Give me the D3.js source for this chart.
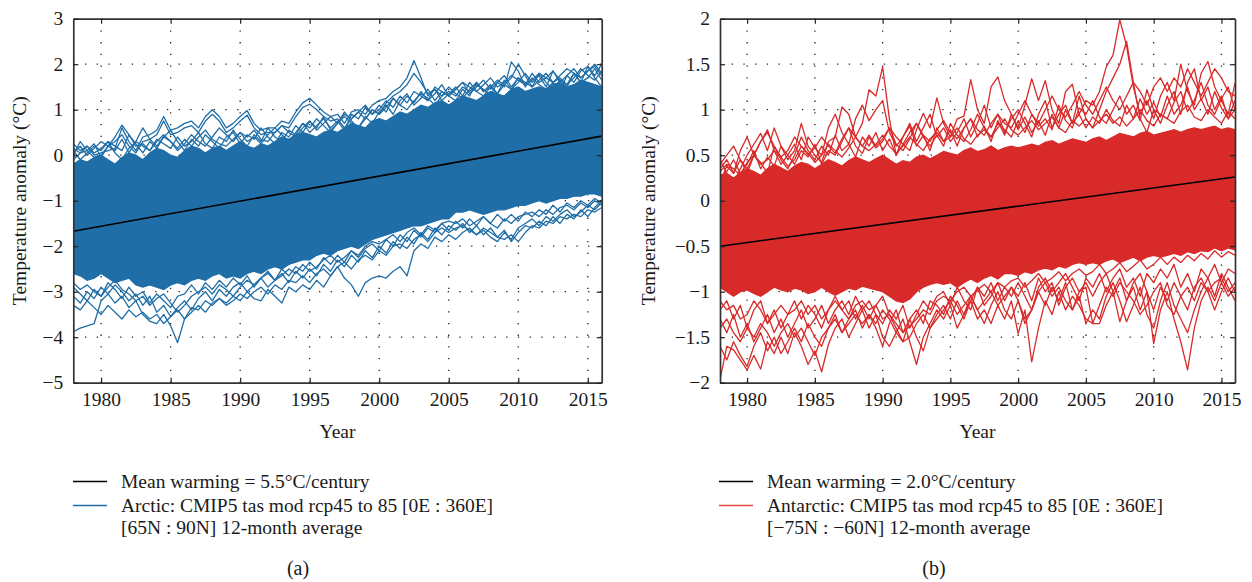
<!DOCTYPE html>
<html><head><meta charset="utf-8">
<script src="https://cdn.jsdelivr.net/npm/d3@7"></script>
<style>
body{margin:0;background:#fff}
svg{display:block}
text{font-family:"Liberation Serif","Times New Roman",serif;fill:#1a1a1a}
</style>
</head><body>
<svg id="chart" width="1252" height="582"></svg>
<script>
// ---------- shared axis data ----------
const yearStart = 1978, yearEnd = 2016, yearStep = 0.5;   // half-year samples, 77 per series
const xTickYears = [1980, 1985, 1990, 1995, 2000, 2005, 2010, 2015];
const arcticYTicks = [-5, -4, -3, -2, -1, 0, 1, 2, 3];
const antarcticYTicks = [-2, -1.5, -1, -0.5, 0, 0.5, 1, 1.5, 2];

// ---------- (a) Arctic ----------
const arcticTrendYears = [1978, 2016];
const arcticTrend = [-1.67, 0.42];
// dense core of the model ensemble (upper / lower envelope)
const arcticCoreUpper = [
 -0.2,-0.1,-0.15,-0.05,0.0,-0.1,-0.2,-0.05,0.05,0.0,-0.1,
 0.05,0.15,0.1,0.0,-0.05,0.1,0.2,0.15,0.05,0.15,0.2,
 0.1,0.2,0.3,0.2,0.15,0.25,0.2,0.3,0.4,0.35,0.45,
 0.5,0.45,0.4,0.5,0.55,0.5,0.6,0.7,0.65,0.6,0.75,
 0.8,0.75,0.85,0.95,0.9,1.0,1.1,1.05,1.15,1.2,1.1,
 1.2,1.3,1.25,1.2,1.3,1.4,1.35,1.3,1.45,1.5,1.4,
 1.45,1.5,1.45,1.55,1.6,1.5,1.55,1.65,1.6,1.55,1.5];
const arcticCoreLower = [
 -2.6,-2.65,-2.75,-2.7,-2.6,-2.7,-2.8,-2.75,-2.7,-2.85,-2.9,
 -2.85,-2.9,-2.95,-2.85,-2.8,-2.85,-2.75,-2.7,-2.75,-2.65,-2.6,
 -2.7,-2.65,-2.7,-2.6,-2.55,-2.6,-2.5,-2.45,-2.5,-2.4,-2.35,
 -2.3,-2.3,-2.2,-2.15,-2.2,-2.1,-2.05,-2.0,-2.05,-1.95,-1.85,
 -1.8,-1.75,-1.7,-1.65,-1.6,-1.55,-1.55,-1.5,-1.45,-1.4,-1.4,
 -1.25,-1.25,-1.2,-1.25,-1.3,-1.25,-1.2,-1.2,-1.15,-1.1,-1.1,
 -1.05,-1.0,-1.05,-1.0,-0.95,-0.95,-0.9,-0.9,-0.85,-0.85,-0.9];
// individual runs on the fringes of the ensemble
const arcticRun1 = [
 0.25,0.1,0.2,0.0,0.05,0.1,0.15,0.6,0.3,0.1,0.4,
 0.45,0.55,0.85,0.55,0.6,0.7,0.75,0.6,0.85,1.0,0.85,
 0.6,0.7,0.85,0.98,0.7,0.55,0.6,0.6,0.75,0.7,0.95,
 1.15,1.25,1.1,0.95,0.85,0.9,0.7,0.95,1.0,0.9,1.1,
 1.2,1.25,1.4,1.5,1.7,2.08,1.7,1.3,1.45,1.3,1.4,
 1.3,1.5,1.4,1.55,1.45,1.3,1.6,1.5,2.05,1.85,1.5,
 1.7,1.55,1.45,1.6,1.4,1.75,1.6,1.85,1.95,1.7,1.5];
const arcticRun2 = [
 0.15,0.05,0.1,-0.05,0.0,0.2,0.3,0.45,0.2,0.05,0.3,
 0.35,0.45,0.75,0.45,0.5,0.6,0.65,0.5,0.75,0.9,0.75,
 0.5,0.6,0.75,0.88,0.6,0.45,0.5,0.5,0.65,0.6,0.85,
 1.05,1.12,1.0,0.85,0.75,0.8,0.6,0.8,0.95,0.8,1.0,
 0.9,1.15,1.3,1.4,1.55,1.8,1.6,1.35,1.45,1.2,1.35,
 1.5,1.3,1.6,1.4,1.3,1.5,1.35,1.55,1.7,2.0,1.75,
 1.5,1.8,1.6,1.45,1.65,1.5,1.8,1.6,1.7,1.9,1.65];
const arcticRun3 = [
 0.0,0.3,0.1,0.25,-0.05,0.2,0.1,0.35,0.05,0.3,0.2,
 0.1,0.35,0.25,0.15,0.4,0.2,0.3,0.5,0.25,0.15,0.4,
 0.3,0.55,0.35,0.2,0.45,0.3,0.6,0.4,0.3,0.55,0.45,
 0.7,0.5,0.65,0.8,0.6,0.75,0.55,0.9,0.8,1.05,0.9,
 1.1,0.95,1.25,1.1,1.3,1.15,1.4,1.2,1.35,1.55,1.3,
 1.45,1.6,1.35,1.5,1.65,1.45,1.6,1.75,1.5,1.7,1.55,
 1.8,1.6,1.7,1.85,1.6,1.75,1.9,1.7,1.85,2.0,1.8];
const arcticRun4 = [
 -0.1,0.05,0.2,0.05,0.15,0.3,0.2,0.1,0.45,0.25,0.05,
 0.3,0.15,0.4,0.55,0.3,0.1,0.35,0.2,0.45,0.3,0.15,
 0.4,0.5,0.25,0.45,0.35,0.6,0.4,0.25,0.5,0.4,0.65,
 0.5,0.75,0.6,0.85,0.55,0.7,0.95,0.75,0.6,0.85,0.7,
 0.95,1.1,0.9,1.2,1.35,1.1,1.25,1.45,1.2,1.4,1.3,
 1.2,1.45,1.3,1.6,1.4,1.55,1.35,1.65,1.45,1.6,1.8,
 1.6,1.75,1.5,1.85,1.65,1.55,1.8,1.6,1.95,1.75,2.0];
const arcticRun5 = [
 -3.88,-3.8,-3.75,-3.7,-3.2,-3.05,-3.25,-3.1,-3.35,-3.2,-3.5,
 -3.65,-3.7,-3.5,-3.75,-4.12,-3.6,-3.35,-3.4,-3.2,-3.3,-3.15,
 -3.25,-3.1,-3.2,-3.0,-3.15,-3.2,-2.95,-3.1,-3.25,-2.9,-3.0,
 -2.85,-2.95,-2.75,-2.9,-2.65,-2.45,-2.7,-2.85,-3.1,-2.8,-2.7,
 -2.65,-2.7,-2.55,-2.45,-2.65,-2.1,-1.95,-2.05,-1.8,-1.9,-1.75,
 -1.85,-1.7,-1.6,-1.75,-1.65,-1.8,-1.9,-1.7,-1.85,-1.6,-1.5,
 -1.4,-1.55,-1.35,-1.45,-1.3,-1.2,-1.35,-1.25,-1.1,-1.2,-1.05];
const arcticRun6 = [
 -3.1,-3.25,-3.0,-3.15,-2.9,-3.05,-2.85,-3.0,-3.2,-3.05,-3.3,
 -3.1,-3.45,-3.3,-3.55,-3.35,-3.2,-3.4,-3.15,-3.0,-3.2,-2.95,
 -3.1,-2.9,-2.8,-3.0,-2.85,-2.7,-2.9,-2.75,-2.6,-2.8,-2.55,
 -2.7,-2.5,-2.65,-2.4,-2.55,-2.3,-2.45,-2.2,-2.35,-2.1,-2.25,
 -2.0,-2.15,-1.9,-2.05,-1.8,-1.95,-1.7,-1.85,-1.6,-1.75,-1.55,
 -1.65,-1.5,-1.7,-1.55,-1.75,-1.6,-1.8,-1.65,-1.9,-1.7,-1.55,
 -1.6,-1.45,-1.55,-1.35,-1.5,-1.3,-1.4,-1.2,-1.35,-1.15,-1.0];
const arcticRun7 = [
 -2.9,-3.05,-3.2,-2.95,-3.1,-2.8,-2.95,-3.15,-2.9,-3.1,-3.0,
 -3.25,-3.05,-3.2,-3.35,-3.1,-3.05,-2.85,-3.05,-2.8,-2.95,-2.75,
 -2.9,-2.7,-2.85,-2.65,-2.9,-2.7,-2.55,-2.75,-2.5,-2.65,-2.45,
 -2.55,-2.35,-2.5,-2.25,-2.4,-2.2,-2.35,-2.1,-2.25,-2.05,-1.95,
 -2.1,-1.85,-2.0,-1.75,-1.9,-1.65,-1.8,-1.6,-1.7,-1.5,-1.65,
 -1.45,-1.6,-1.4,-1.55,-1.35,-1.5,-1.3,-1.45,-1.3,-1.45,-1.25,
 -1.35,-1.2,-1.3,-1.1,-1.25,-1.05,-1.15,-1.0,-1.1,-0.95,-1.05];
const arcticRun8 = [
 0.1,-0.1,0.05,0.2,0.1,0.3,0.05,-0.1,0.15,0.3,0.6,
 0.35,0.2,0.4,0.3,0.1,0.25,0.45,0.3,0.2,0.4,0.6,
 0.45,0.3,0.5,0.4,0.55,0.35,0.3,0.5,0.65,0.5,0.4,
 0.6,0.75,0.55,0.7,0.85,0.7,0.9,0.8,0.95,1.1,0.9,
 1.0,1.2,1.05,1.3,1.15,1.4,1.3,1.2,1.5,1.4,1.3,
 1.45,1.6,1.5,1.4,1.55,1.7,1.5,1.6,1.75,1.65,1.55,
 1.65,1.8,1.7,1.6,1.75,1.9,1.8,1.7,1.85,1.95,1.75];
const arcticRun9 = [
 -2.8,-2.95,-2.85,-3.0,-3.1,-2.9,-2.75,-2.95,-3.05,-3.2,-3.1,
 -3.3,-3.15,-3.05,-3.25,-3.45,-3.3,-3.1,-3.0,-2.9,-3.05,-2.85,
 -2.95,-3.1,-2.9,-2.75,-2.85,-2.7,-2.6,-2.75,-2.65,-2.5,-2.6,
 -2.4,-2.55,-2.45,-2.3,-2.2,-2.35,-2.25,-2.1,-2.2,-2.0,-1.9,
 -1.95,-1.85,-1.75,-1.9,-1.7,-1.6,-1.75,-1.55,-1.65,-1.5,-1.45,
 -1.5,-1.4,-1.55,-1.45,-1.35,-1.5,-1.6,-1.4,-1.5,-1.35,-1.3,
 -1.25,-1.35,-1.2,-1.3,-1.15,-1.1,-1.2,-1.05,-1.15,-1.0,-1.1];
const arcticRun10 = [
 -3.3,-3.4,-3.2,-3.35,-3.5,-3.3,-3.45,-3.6,-3.4,-3.55,-3.45,
 -3.6,-3.5,-3.7,-3.55,-3.4,-3.6,-3.45,-3.3,-3.45,-3.25,-3.15,
 -3.3,-3.2,-3.05,-3.15,-3.0,-2.9,-3.05,-2.85,-2.95,-2.75,-2.8,
 -2.65,-2.8,-2.6,-2.5,-2.65,-2.45,-2.35,-2.5,-2.3,-2.2,-2.3,
 -2.1,-2.2,-2.0,-1.95,-2.05,-1.85,-1.75,-1.9,-1.7,-1.6,-1.7,
 -1.6,-1.55,-1.65,-1.75,-1.6,-1.7,-1.8,-1.85,-1.75,-1.9,-1.7,
 -1.55,-1.6,-1.45,-1.5,-1.35,-1.4,-1.3,-1.35,-1.2,-1.25,-1.15];
const arcticRun11 = [
 0.05,0.2,0.0,0.15,0.3,0.2,0.4,0.66,0.45,0.2,0.25,
 0.1,0.3,0.45,0.3,0.15,0.35,0.2,0.4,0.55,0.35,0.25,
 0.2,0.35,0.5,0.3,0.4,0.25,0.45,0.6,0.45,0.3,0.5,
 0.7,0.6,0.8,0.65,0.5,0.7,0.85,0.7,0.6,0.8,1.0,
 0.9,1.05,1.25,1.1,1.0,1.2,1.35,1.25,1.1,1.3,1.5,
 1.35,1.25,1.45,1.6,1.4,1.5,1.65,1.55,1.45,1.7,1.6,
 1.5,1.65,1.8,1.6,1.7,1.55,1.7,1.9,1.75,1.65,1.85];

// ---------- (b) Antarctic ----------
const antarcticTrendYears = [1978, 2016];
const antarcticTrend = [-0.5, 0.26];
const antarcticCoreUpper = [
 0.28,0.3,0.25,0.3,0.35,0.32,0.28,0.35,0.4,0.36,0.32,
 0.38,0.42,0.4,0.35,0.4,0.45,0.42,0.38,0.44,0.48,0.45,
 0.42,0.46,0.5,0.45,0.4,0.44,0.42,0.48,0.5,0.46,0.5,
 0.54,0.52,0.5,0.55,0.58,0.54,0.56,0.6,0.55,0.58,0.6,
 0.58,0.6,0.62,0.6,0.64,0.66,0.62,0.65,0.68,0.66,0.64,
 0.68,0.7,0.66,0.7,0.74,0.72,0.7,0.74,0.76,0.72,0.74,
 0.76,0.78,0.75,0.78,0.8,0.78,0.8,0.82,0.78,0.8,0.78];
const antarcticCoreLower = [
 -0.95,-1.0,-1.05,-1.0,-0.98,-1.02,-1.05,-1.0,-0.95,-0.98,-1.0,
 -0.96,-0.98,-1.02,-1.0,-0.95,-1.0,-1.04,-1.0,-0.96,-0.98,-0.94,
 -0.96,-0.98,-1.0,-1.05,-1.1,-1.12,-1.08,-1.0,-0.95,-0.92,-0.9,
 -0.92,-0.9,-0.95,-0.9,-0.86,-0.9,-0.85,-0.82,-0.86,-0.8,-0.8,
 -0.82,-0.78,-0.8,-0.76,-0.74,-0.76,-0.72,-0.74,-0.7,-0.68,-0.7,
 -0.68,-0.7,-0.66,-0.64,-0.68,-0.65,-0.62,-0.66,-0.62,-0.6,-0.62,
 -0.6,-0.58,-0.6,-0.56,-0.58,-0.55,-0.56,-0.52,-0.55,-0.52,-0.54];
const antarcticRun1 = [
 0.45,0.3,0.2,0.35,0.5,0.62,0.74,0.55,0.8,0.6,0.45,
 0.55,0.85,0.6,0.5,0.42,0.65,0.7,1.03,0.95,0.7,0.85,
 1.22,1.15,1.47,0.9,0.5,0.62,0.55,0.78,0.96,0.8,1.13,
 0.85,0.7,0.9,0.93,1.33,1.0,0.85,1.25,1.36,1.1,0.95,
 0.8,1.05,1.34,1.1,1.32,1.0,0.85,1.2,1.28,0.95,1.1,
 1.05,1.2,1.47,1.6,1.99,1.7,1.25,0.95,1.1,0.9,1.15,
 1.3,1.1,1.5,1.2,1.05,1.4,1.53,1.25,1.1,0.95,1.29];
const antarcticRun2 = [
 0.35,0.45,0.3,0.55,0.7,0.5,0.65,0.78,0.55,0.4,0.5,
 0.62,0.45,0.7,0.58,0.5,0.8,0.95,0.75,0.62,0.9,1.05,
 0.88,1.0,1.1,0.75,0.6,0.7,0.85,0.65,0.8,0.95,0.7,
 0.8,0.65,0.75,0.9,0.7,0.85,1.05,0.8,0.95,0.75,0.9,
 1.0,0.85,0.7,0.95,1.1,0.8,0.95,1.05,0.85,1.15,0.9,
 0.8,1.0,1.2,1.35,1.5,1.75,1.3,0.9,0.75,1.0,0.85,
 1.05,1.2,0.95,1.3,1.45,1.1,1.25,1.0,1.15,0.9,1.0];
const antarcticRun3 = [
 0.2,0.38,0.3,0.45,0.3,0.5,0.42,0.3,0.6,0.45,0.35,
 0.5,0.7,0.55,0.45,0.6,0.5,0.72,0.55,0.62,0.48,0.7,
 0.6,0.75,0.55,0.68,0.5,0.7,0.82,0.6,0.72,0.55,0.8,
 0.65,0.78,0.6,0.8,0.9,0.7,0.82,0.65,0.88,0.72,0.95,
 0.78,0.92,0.75,0.88,0.72,0.95,0.8,1.0,0.85,0.95,0.8,
 0.92,0.85,1.0,0.88,0.82,1.05,0.9,1.12,0.95,1.08,0.92,
 1.15,0.95,1.05,1.25,1.0,1.12,0.95,1.2,1.02,0.9,1.1];
const antarcticRun4 = [
 0.25,0.32,0.45,0.3,0.4,0.55,0.35,0.48,0.38,0.6,0.5,
 0.4,0.55,0.48,0.62,0.4,0.55,0.5,0.65,0.8,0.6,0.52,
 0.7,0.58,0.65,0.8,0.62,0.55,0.68,0.85,0.7,0.6,0.72,
 0.6,0.85,0.72,0.65,0.78,0.95,0.8,0.7,0.85,0.78,0.7,
 0.88,0.75,0.95,0.82,0.9,0.78,1.05,0.88,0.8,1.02,0.95,
 1.1,0.92,0.85,1.0,1.15,0.95,1.05,0.88,1.22,1.0,0.95,
 0.9,1.08,1.2,0.98,1.1,1.3,1.05,0.95,1.12,1.25,1.0];
const antarcticRun5 = [
 -1.97,-1.6,-1.64,-1.75,-1.86,-1.7,-1.85,-1.55,-1.68,-1.5,-1.68,
 -1.45,-1.6,-1.8,-1.65,-1.88,-1.58,-1.4,-1.3,-1.5,-1.35,-1.2,
 -1.4,-1.25,-1.5,-1.6,-1.45,-1.3,-1.55,-1.8,-1.5,-1.35,-1.2,
 -1.3,-1.15,-1.4,-1.25,-1.1,-1.3,-1.2,-1.35,-1.15,-1.3,-1.1,
 -1.46,-1.2,-1.77,-1.4,-1.1,-1.25,-1.0,-1.2,-1.05,-1.15,-1.3,
 -1.35,-1.35,-1.15,-1.0,-1.33,-1.1,-0.95,-1.2,-1.0,-1.57,-1.2,
 -1.0,-1.3,-1.55,-1.86,-1.4,-1.1,-0.95,-1.1,-0.9,-1.05,-0.95];
const antarcticRun6 = [
 -1.6,-1.75,-1.55,-1.7,-1.82,-1.6,-1.45,-1.65,-1.5,-1.68,-1.55,
 -1.4,-1.55,-1.35,-1.5,-1.6,-1.4,-1.25,-1.45,-1.3,-1.2,-1.4,
 -1.25,-1.4,-1.6,-1.35,-1.2,-1.45,-1.3,-1.5,-1.65,-1.4,-1.25,
 -1.15,-1.3,-1.1,-1.25,-1.05,-1.2,-1.35,-1.15,-1.0,-1.2,-1.3,
 -1.1,-1.35,-1.2,-1.0,-1.15,-0.95,-1.1,-0.9,-1.2,-1.05,-1.35,
 -1.2,-1.3,-1.05,-0.9,-1.1,-1.33,-1.15,-0.95,-1.25,-1.4,-1.1,
 -0.9,-1.15,-1.3,-1.45,-1.2,-1.0,-0.85,-1.05,-0.8,-0.95,-1.1];
const antarcticRun7 = [
 -1.3,-1.45,-1.25,-1.5,-1.35,-1.55,-1.4,-1.25,-1.45,-1.3,-1.5,
 -1.35,-1.2,-1.4,-1.3,-1.15,-1.35,-1.2,-1.1,-1.25,-1.05,-1.2,
 -1.1,-1.25,-1.35,-1.2,-1.3,-1.15,-1.4,-1.25,-1.1,-1.2,-1.05,
 -1.0,-1.15,-0.95,-1.1,-1.2,-0.95,-1.05,-0.9,-1.1,-0.95,-1.05,
 -0.9,-1.05,-1.2,-0.95,-0.85,-1.0,-0.9,-0.8,-0.95,-1.1,-0.85,
 -0.95,-0.8,-1.0,-0.85,-0.75,-0.95,-0.85,-1.05,-0.8,-0.9,-0.75,
 -0.85,-0.7,-0.95,-0.8,-1.0,-0.75,-0.85,-0.7,-0.9,-0.75,-0.8];
const antarcticRun8 = [
 -1.2,-1.1,-1.3,-1.15,-1.4,-1.2,-1.1,-1.35,-1.2,-1.4,-1.25,
 -1.1,-1.3,-1.15,-1.25,-1.4,-1.2,-1.05,-1.2,-1.1,-1.3,-1.15,
 -1.3,-1.15,-1.05,-1.25,-1.4,-1.55,-1.3,-1.2,-1.35,-1.1,-1.15,
 -1.25,-1.05,-1.15,-1.3,-1.1,-0.95,-1.15,-1.05,-0.9,-1.1,-0.95,
 -1.05,-0.9,-1.1,-0.85,-1.0,-0.9,-1.15,-0.95,-0.85,-1.0,-0.9,
 -1.05,-0.9,-0.8,-1.0,-0.85,-1.1,-0.9,-0.8,-1.0,-1.2,-0.95,
 -1.1,-0.9,-1.05,-1.2,-0.95,-0.85,-1.0,-0.9,-0.85,-1.0,-0.9];
const antarcticRun9 = [
 0.32,0.4,0.35,0.28,0.42,0.5,0.4,0.45,0.55,0.48,0.38,
 0.45,0.6,0.52,0.42,0.5,0.62,0.55,0.48,0.58,0.7,0.6,
 0.55,0.62,0.72,0.6,0.52,0.6,0.7,0.62,0.55,0.68,0.75,
 0.65,0.7,0.8,0.68,0.62,0.72,0.78,0.7,0.8,0.9,0.78,
 0.72,0.8,0.88,0.78,0.85,0.92,0.8,0.75,0.88,0.82,0.9,
 0.8,0.88,0.95,0.85,0.92,0.82,0.9,1.0,0.88,0.82,0.95,
 0.9,0.85,0.98,1.05,0.92,0.88,1.0,0.92,0.85,0.98,0.9];
const antarcticRun10 = [
 -1.1,-1.2,-1.15,-1.3,-1.25,-1.1,-1.2,-1.35,-1.25,-1.15,-1.25,
 -1.2,-1.1,-1.25,-1.15,-1.3,-1.2,-1.1,-1.2,-1.3,-1.15,-1.1,
 -1.2,-1.15,-1.3,-1.25,-1.35,-1.45,-1.38,-1.3,-1.2,-1.25,-1.1,
 -1.05,-1.1,-1.0,-0.95,-1.05,-0.98,-0.92,-1.0,-0.9,-0.95,-0.88,
 -0.85,-0.95,-0.88,-0.8,-0.9,-0.85,-0.78,-0.88,-0.8,-0.75,-0.82,
 -0.78,-0.7,-0.8,-0.75,-0.68,-0.78,-0.72,-0.65,-0.75,-0.7,-0.62,
 -0.7,-0.62,-0.68,-0.6,-0.66,-0.58,-0.64,-0.55,-0.62,-0.56,-0.6];
const antarcticRun11 = [
 -1.4,-1.3,-1.45,-1.55,-1.4,-1.5,-1.35,-1.45,-1.6,-1.45,-1.35,
 -1.5,-1.4,-1.55,-1.7,-1.5,-1.4,-1.3,-1.45,-1.35,-1.25,-1.35,
 -1.25,-1.35,-1.2,-1.3,-1.45,-1.55,-1.5,-1.35,-1.25,-1.4,-1.3,
 -1.2,-1.1,-1.25,-1.15,-1.05,-1.2,-1.1,-1.0,-1.15,-1.05,-0.95,
 -1.1,-1.3,-1.2,-1.0,-0.9,-1.05,-0.95,-1.1,-1.2,-1.0,-0.95,
 -1.35,-1.15,-0.95,-1.05,-0.9,-1.0,-1.1,-1.25,-1.15,-1.0,-0.9,
 -1.15,-1.25,-1.05,-0.95,-1.1,-0.9,-1.0,-1.2,-1.0,-0.85,-1.0];
const antarcticRun12 = [
 0.4,0.5,0.6,0.45,0.35,0.5,0.65,0.75,0.6,0.48,0.55,
 0.7,0.6,0.5,0.58,0.7,0.6,0.52,0.68,0.8,0.7,0.6,
 0.72,0.6,0.68,0.8,0.7,0.62,0.75,0.85,0.72,0.65,0.78,
 0.88,0.75,0.68,0.8,0.9,0.78,0.72,0.85,0.95,0.85,0.8,
 0.95,1.1,0.95,0.85,1.0,1.15,1.0,0.92,1.05,1.2,1.05,
 0.95,1.1,1.25,1.1,1.0,1.15,1.3,1.2,1.05,1.25,1.35,
 1.2,1.35,1.25,1.45,1.3,1.15,1.3,1.45,1.35,1.2,1.15];

// ---------- text ----------
const yLabel = "Temperature anomaly (°C)";
const xLabel = "Year";
const legendA = ["Mean warming = 5.5°C/century", "Arctic: CMIP5 tas mod rcp45 to 85 [0E : 360E]", "[65N : 90N] 12-month average"];
const legendB = ["Mean warming = 2.0°C/century", "Antarctic: CMIP5 tas mod rcp45 to 85 [0E : 360E]", "[−75N : −60N] 12-month average"];

const svg = d3.select("#chart");
const fmt = d => d < 0 ? "\u2212" + Math.abs(d) : String(d);

function panel(cfg) {
  const x = d3.scaleLinear().domain([yearStart, yearEnd]).range([cfg.left, cfg.right]);
  const y = d3.scaleLinear().domain(cfg.yDomain).range([cfg.bottom, cfg.top]);
  const g = svg.append("g");
  const clipId = "clip" + cfg.id;
  svg.append("defs").append("clipPath").attr("id", clipId)
    .append("rect").attr("x", cfg.left).attr("y", cfg.top)
    .attr("width", cfg.right - cfg.left).attr("height", cfg.bottom - cfg.top);

  // dotted grid
  const grid = g.append("g").attr("stroke", "#222").attr("stroke-width", 1.3)
    .attr("stroke-dasharray", "1.3,10.4");
  grid.selectAll(".gx").data(xTickYears).join("line")
    .attr("x1", d => x(d)).attr("x2", d => x(d))
    .attr("y1", cfg.bottom).attr("y2", cfg.top);
  grid.selectAll(".gy").data(cfg.yTicks.slice(1, -1)).join("line")
    .attr("y1", d => y(d)).attr("y2", d => y(d))
    .attr("x1", cfg.left).attr("x2", cfg.right);

  const data = g.append("g").attr("clip-path", `url(#${clipId})`);
  const tx = (d, i) => x(yearStart + i * yearStep);
  const area = d3.area().x(tx).y0((d, i) => y(cfg.coreLower[i])).y1(d => y(d)).curve(d3.curveLinear);
  data.append("path").datum(cfg.coreUpper).attr("d", area)
    .attr("fill", cfg.color).attr("stroke", cfg.color).attr("stroke-width", 1.3);
  const line = d3.line().x(tx).y(d => y(d));
  data.selectAll(".run").data(cfg.runs).join("path")
    .attr("d", line).attr("fill", "none").attr("stroke", cfg.color)
    .attr("stroke-width", 1.3).attr("stroke-linejoin", "round");
  const tline = d3.line().x((d, i) => x(cfg.trendYears[i])).y(d => y(d));
  data.append("path").datum(cfg.trend).attr("d", tline)
    .attr("fill", "none").attr("stroke", "#000").attr("stroke-width", 1.6);

  // axes: ticks inward on all four sides
  const axStyle = sel => {
    sel.selectAll(".domain").attr("stroke", "#333").attr("stroke-width", 1.7);
    sel.selectAll(".tick line").attr("stroke", "#222").attr("stroke-width", 1.2);
    sel.selectAll("text").attr("font-size", 19.5).attr("fill", "#1a1a1a")
      .attr("font-family", '"Liberation Serif","Times New Roman",serif');
  };
  g.append("g").attr("transform", `translate(0,${cfg.bottom})`)
    .call(d3.axisBottom(x).tickValues(xTickYears).tickFormat(d3.format("d"))
      .tickSizeInner(-5).tickSizeOuter(0).tickPadding(9.5)).call(axStyle);
  g.append("g").attr("transform", `translate(0,${cfg.top})`)
    .call(d3.axisTop(x).tickValues(xTickYears).tickFormat("")
      .tickSizeInner(-5).tickSizeOuter(0)).call(axStyle);
  g.append("g").attr("transform", `translate(${cfg.left},0)`)
    .call(d3.axisLeft(y).tickValues(cfg.yTicks).tickFormat(fmt)
      .tickSizeInner(-5).tickSizeOuter(0).tickPadding(10)).call(axStyle);
  g.append("g").attr("transform", `translate(${cfg.right},0)`)
    .call(d3.axisRight(y).tickValues(cfg.yTicks).tickFormat("")
      .tickSizeInner(-5).tickSizeOuter(0)).call(axStyle);

  // axis titles
  g.append("text").attr("x", (cfg.left + cfg.right) / 2).attr("y", 438)
    .attr("text-anchor", "middle").attr("font-size", 19.5).text(xLabel);
  g.append("text").attr("transform", `translate(${cfg.yLabelX},${(cfg.top + cfg.bottom) / 2}) rotate(-90)`)
    .attr("text-anchor", "middle").attr("dominant-baseline", "central")
    .attr("font-size", 19.5).text(yLabel);

  // legend
  const lg = g.append("g");
  const lx = cfg.legendX;
  lg.append("line").attr("x1", lx).attr("x2", lx + 34).attr("y1", 481.5).attr("y2", 481.5)
    .attr("stroke", "#000").attr("stroke-width", 1.4);
  lg.append("line").attr("x1", lx).attr("x2", lx + 34).attr("y1", 505.5).attr("y2", 505.5)
    .attr("stroke", cfg.legendColor).attr("stroke-width", 1.4);
  const lt = [487.5, 511.5, 533.5];
  lg.selectAll("text").data(cfg.legend).join("text")
    .attr("x", lx + 48).attr("y", (d, i) => lt[i]).attr("font-size", 19.5).text(d => d);
  g.append("text").attr("x", cfg.captionX).attr("y", 575).attr("text-anchor", "middle")
    .attr("font-size", 20).text(cfg.caption);
}

panel({
  id: "a", left: 73.3, right: 601.7, top: 18.7, bottom: 382.7, yDomain: [-5, 3],
  yTicks: arcticYTicks, color: "#1f6ea8", legendColor: "#1f6ea8",
  coreUpper: arcticCoreUpper, coreLower: arcticCoreLower,
  runs: [arcticRun1, arcticRun2, arcticRun3, arcticRun4, arcticRun5, arcticRun6, arcticRun7,
         arcticRun8, arcticRun9, arcticRun10, arcticRun11],
  trendYears: arcticTrendYears, trend: arcticTrend,
  yLabelX: 19, legendX: 73, legend: legendA, captionX: 298, caption: "(a)"
});
panel({
  id: "b", left: 720, right: 1235, top: 18.7, bottom: 382.7, yDomain: [-2, 2],
  yTicks: antarcticYTicks, color: "#d92a2a", legendColor: "#e24a4a",
  coreUpper: antarcticCoreUpper, coreLower: antarcticCoreLower,
  runs: [antarcticRun1, antarcticRun2, antarcticRun3, antarcticRun4, antarcticRun5, antarcticRun6,
         antarcticRun7, antarcticRun8, antarcticRun9, antarcticRun10, antarcticRun11, antarcticRun12],
  trendYears: antarcticTrendYears, trend: antarcticTrend,
  yLabelX: 648, legendX: 719, legend: legendB, captionX: 934, caption: "(b)"
});
</script>
</body></html>
